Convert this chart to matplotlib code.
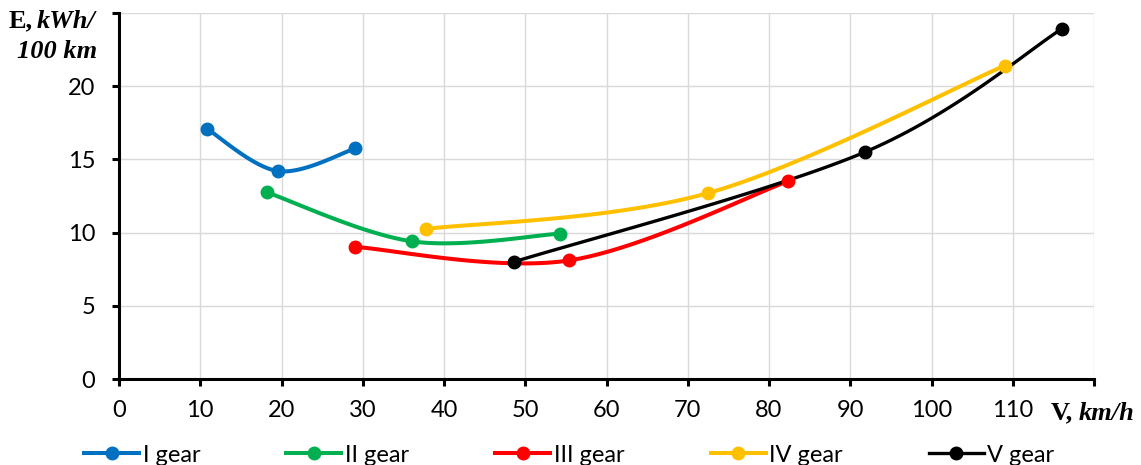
import numpy as np
import matplotlib
matplotlib.use("Agg")
import matplotlib.pyplot as plt

# Data (speed km/h, energy kWh/100 km)
gear1_v = [10.8, 19.6, 29.1]
gear1_e = [17.1, 14.2, 15.75]
gear2_v = [18.2, 36.1, 54.3]
gear2_e = [12.75, 9.4, 9.93]
gear3_v = [29.1, 55.4, 82.3]
gear3_e = [9.02, 8.1, 13.5]
gear4_v = [37.8, 72.5, 109.0]
gear4_e = [10.25, 12.7, 21.4]
gear5_v = [48.6, 91.8, 116.0]
gear5_e = [8.0, 15.5, 23.9]

labels = ["I gear", "II gear", "III gear", "IV gear", "V gear"]
colors = ["#0070C0", "#00B050", "#FF0000", "#FFC000", "#000000"]

x_ticks = [0, 10, 20, 30, 40, 50, 60, 70, 80, 90, 100, 110, 120]
y_ticks = [0, 5, 10, 15, 20, 25]

W, H = 1141, 465


def smooth(xs, ys, n=40):
    # Excel-like smoothed line: cubic Bezier through points with 1/6 tangents
    p = np.column_stack([xs, ys]).astype(float)
    ext = np.vstack([p[0], p, p[-1]])
    out = []
    t = np.linspace(0, 1, n)[:, None]
    for i in range(len(p) - 1):
        p0, p3 = p[i], p[i + 1]
        c1 = p0 + (ext[i + 2] - ext[i]) / 6
        c2 = p3 - (ext[i + 3] - ext[i + 1]) / 6
        seg = ((1 - t) ** 3) * p0 + 3 * ((1 - t) ** 2) * t * c1 \
            + 3 * (1 - t) * t ** 2 * c2 + t ** 3 * p3
        out.append(seg if i == 0 else seg[1:])
    pts = np.vstack(out)
    return pts[:, 0], pts[:, 1]


fig = plt.figure(figsize=(W / 100, H / 100), dpi=100)
ax = fig.add_axes([119 / W, 1 - 379 / H, (1094 - 119) / W, (379 - 13) / H])

series = [(gear1_v, gear1_e), (gear2_v, gear2_e), (gear3_v, gear3_e),
          (gear4_v, gear4_e), (gear5_v, gear5_e)]

handles = []
for (v, e), lab, col in zip(series, labels, colors):
    lw = 2.4 if col == "#000000" else 2.9
    sx, sy = smooth(v, e)
    ax.plot(sx, sy, color=col, lw=lw, solid_capstyle="round", zorder=3)
    ax.plot(v, e, "o", color=col, ms=9, zorder=4)
    h, = ax.plot([], [], color=col, lw=lw, marker="o", ms=9)
    h.set_label(lab)
    handles.append(h)

ax.set_xlim(0, 120)
ax.set_ylim(0, 25)
ax.set_xticks(x_ticks)
ax.set_xticklabels([str(t) for t in x_ticks[:-1]] + [""])
ax.set_yticks(y_ticks)
ax.set_yticklabels([str(t) for t in y_ticks[:-1]] + [""])

ax.grid(True, color="#D9D9D9", lw=1.0, zorder=0)
ax.set_axisbelow(True)
for s in ["top", "right"]:
    ax.spines[s].set_visible(False)
for s in ["left", "bottom"]:
    ax.spines[s].set_linewidth(2.2)
    ax.spines[s].set_zorder(5)

ax.tick_params(axis="both", length=5, width=2.2, color="black")
ax.tick_params(axis="x", pad=10)
ax.tick_params(axis="y", pad=12)
for lbl in ax.get_xticklabels() + ax.get_yticklabels():
    lbl.set_fontfamily("Lato")
    lbl.set_fontsize(17)

# axis titles (bold serif, units in bold italic)
serif = "Liberation Serif"
fig.text(33 / W, 1 - 21 / H, "E,", ha="right", va="center",
         family=serif, weight="bold", size=19)
fig.text(37 / W, 1 - 21 / H, "kWh/", ha="left", va="center",
         family=serif, weight="bold", style="italic", size=19)
fig.text(57 / W, 1 - 52 / H, "100 km", ha="center", va="center",
         family=serif, weight="bold", style="italic", size=19)
fig.text(1073 / W, 1 - 413 / H, "V,", ha="right", va="center",
         family=serif, weight="bold", size=19)
fig.text(1079 / W, 1 - 413 / H, "km/h", ha="left", va="center",
         family=serif, weight="bold", style="italic", size=19)

fig.legend(handles=handles, loc="center left", bbox_to_anchor=(84 / W, 1 - 455 / H),
           ncol=5, frameon=False, prop={"family": "Lato", "size": 17},
           handlelength=2.33, handletextpad=0.15, columnspacing=3.65,
           borderpad=0, borderaxespad=0)

fig.savefig("out.png", dpi=100)
